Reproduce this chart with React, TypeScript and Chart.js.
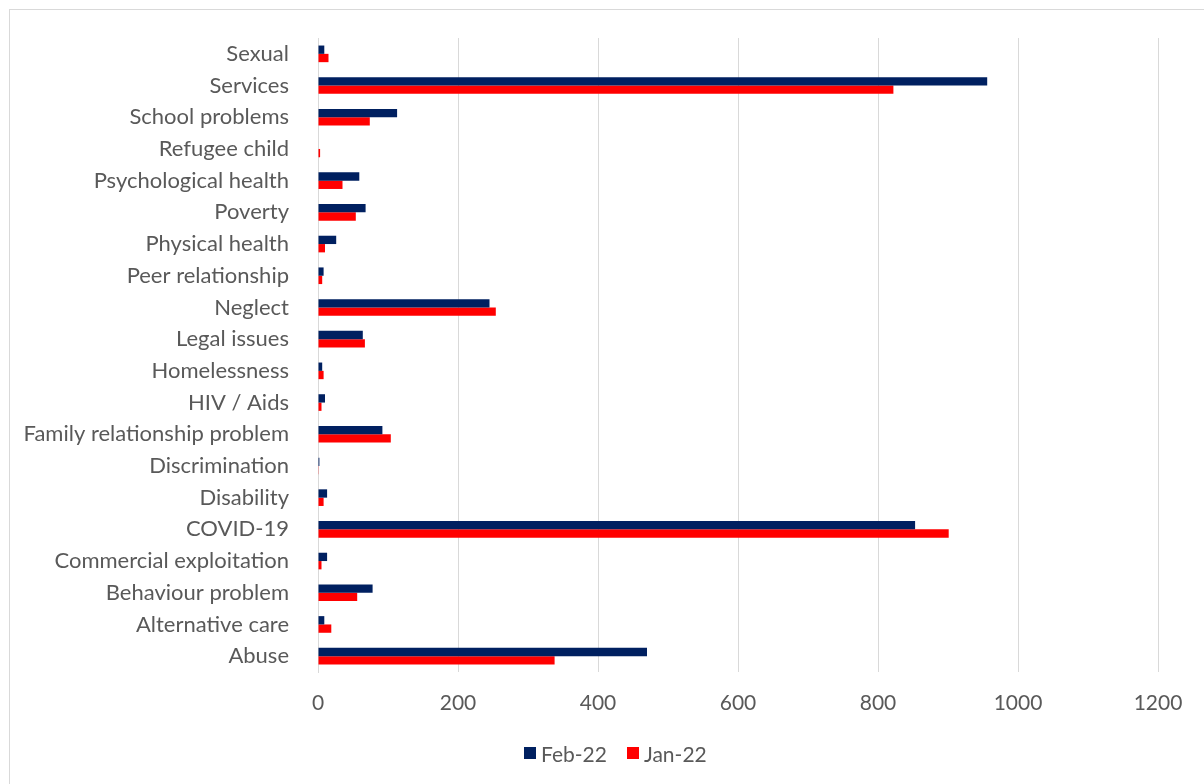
import React, { useEffect, useRef } from "react";
import { Chart, registerables } from "chart.js";

Chart.register(...registerables);

// Categories, listed top to bottom
const categories: string[] = [
  "Sexual",
  "Services",
  "School problems",
  "Refugee child",
  "Psychological health",
  "Poverty",
  "Physical health",
  "Peer relationship",
  "Neglect",
  "Legal issues",
  "Homelessness",
  "HIV / Aids",
  "Family relationship problem",
  "Discrimination",
  "Disability",
  "COVID-19",
  "Commercial exploitation",
  "Behaviour problem",
  "Alternative care",
  "Abuse",
];

const seriesNames: string[] = ["Feb-22", "Jan-22"];
const seriesColors: string[] = ["#002060", "#FF0000"];

const feb22: number[] = [9, 956, 113, 0, 59, 68, 26, 8, 245, 64, 6, 10, 92, 2, 13, 853, 13, 78, 9, 470];
const jan22: number[] = [15, 822, 74, 3, 35, 54, 10, 6, 254, 67, 8, 5, 104, 1, 8, 901, 5, 56, 19, 338];

const xTicksMin = 0;
const xTicksMax = 1200;
const xTickStep = 200;

const FONT = "Lato, 'Open Sans', sans-serif";
const TEXT_COLOR = "#595959";
const GRID_COLOR = "#d9d9d9";

export default function App() {
  const canvasRef = useRef<HTMLCanvasElement | null>(null);

  useEffect(() => {
    document.body.style.overflow = "hidden";
    const canvas = canvasRef.current;
    if (!canvas) return;
    const chart = new Chart(canvas, {
      type: "bar",
      data: {
        labels: categories,
        datasets: [
          {
            label: seriesNames[0],
            data: feb22,
            backgroundColor: seriesColors[0],
            categoryPercentage: 0.525,
            barPercentage: 1,
          },
          {
            label: seriesNames[1],
            data: jan22,
            backgroundColor: seriesColors[1],
            categoryPercentage: 0.525,
            barPercentage: 1,
          },
        ],
      },
      options: {
        indexAxis: "y",
        animation: false,
        responsive: false,
        devicePixelRatio: 1,
        layout: { padding: { left: 0, top: 38, right: 46, bottom: 0 } },
        plugins: {
          legend: { display: false },
          tooltip: { enabled: false },
        },
        scales: {
          x: {
            type: "linear",
            min: xTicksMin,
            max: xTicksMax,
            ticks: {
              stepSize: xTickStep,
              color: TEXT_COLOR,
              font: { family: FONT, size: 21 },
              padding: 19,
              callback: (value: any) => String(value),
            },
            grid: {
              color: GRID_COLOR,
              lineWidth: 1,
              drawTicks: false,
            },
            border: { display: false },
            afterFit: (scale: any) => {
              scale.height = 112;
            },
          },
          y: {
            type: "category",
            ticks: {
              color: TEXT_COLOR,
              font: { family: FONT, size: 22 },
              padding: 29,
              autoSkip: false,
            },
            grid: { display: false, drawTicks: false },
            border: { display: true, color: GRID_COLOR, width: 1 },
            afterFit: (scale: any) => {
              scale.width = 318;
              // the label gap should not push the plot area down
              scale.paddingTop = 0;
              scale.paddingBottom = 0;
            },
          },
        },
      },
    });
    return () => chart.destroy();
  }, []);

  return (
    <div>
      <div
        style={{
          position: "fixed",
          left: 9,
          top: 9,
          width: 1400,
          height: 1000,
          border: `1px solid ${GRID_COLOR}`,
          boxSizing: "border-box",
        }}
      />
      <canvas
        ref={canvasRef}
        width={1204}
        height={784}
        style={{ position: "fixed", left: 0, top: 0, width: 1204, height: 784 }}
      />
      <div
        style={{
          position: "fixed",
          left: 524,
          top: 740,
          height: 26,
          display: "flex",
          alignItems: "center",
          fontFamily: FONT,
          fontSize: 21,
          color: TEXT_COLOR,
          whiteSpace: "nowrap",
        }}
      >
        {seriesNames.map((name, i) => (
          <div
            key={name}
            style={{ display: "flex", alignItems: "center", marginRight: i === 0 ? 20 : 0 }}
          >
            <span
              style={{
                display: "inline-block",
                width: 12,
                height: 12,
                background: seriesColors[i],
                marginRight: 5,
              }}
            />
            <span>{name}</span>
          </div>
        ))}
      </div>
    </div>
  );
}
